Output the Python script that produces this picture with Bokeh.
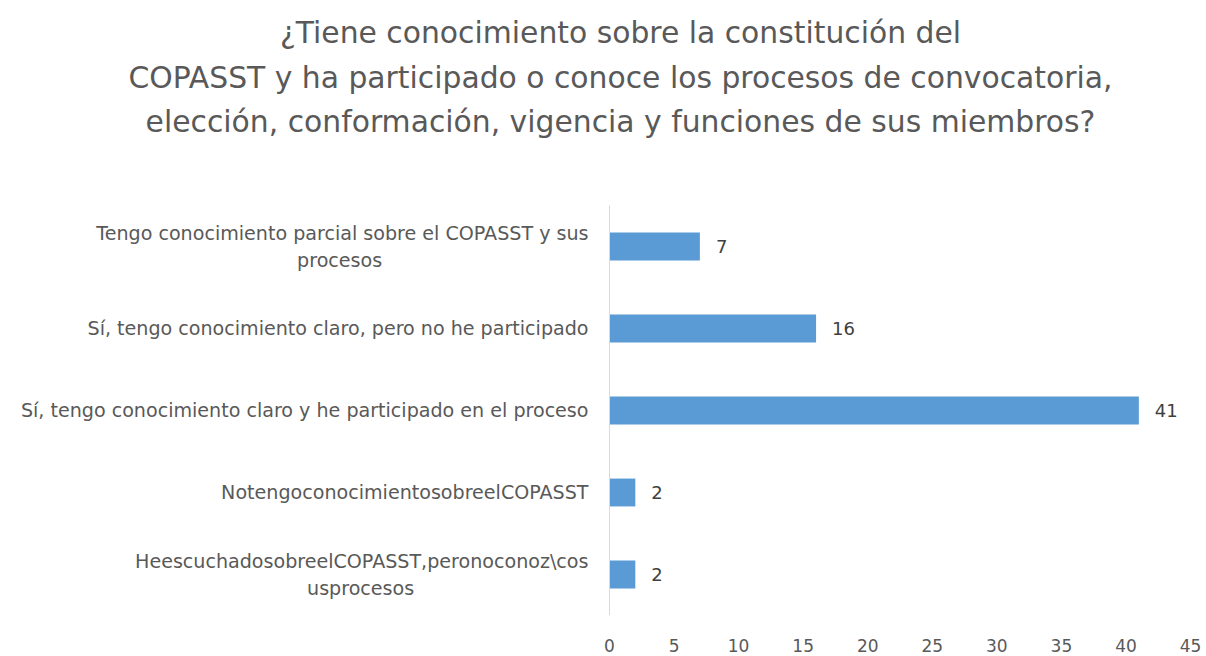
from bokeh.plotting import figure
from bokeh.models import Range1d, ColumnDataSource, FixedTicker
from bokeh.core.properties import value
from bokeh.embed import file_html
from bokeh.resources import INLINE

title_lines = [
    "¿Tiene conocimiento sobre la constitución del",
    "COPASST y ha participado o conoce los procesos de convocatoria,",
    "elección, conformación, vigencia y funciones de sus miembros?",
]
categories = [
    "Tengo conocimiento parcial sobre el COPASST y sus\nprocesos",
    "Sí, tengo conocimiento claro, pero no he participado",
    "Sí, tengo conocimiento claro y he participado en el proceso",
    "NotengoconocimientosobreelCOPASST",
    "HeescuchadosobreelCOPASST,peronoconoz\\cos\nusprocesos",
]
counts = [7, 16, 41, 2, 2]
x_ticks = [0, 5, 10, 15, 20, 25, 30, 35, 40, 45]

FONT = "DejaVu Sans"
GRAY = "#595959"
W, H = 1206, 656
AXIS_X, RIGHT, TITLE_H, BOTTOM = 609, 16, 205, 41
XMAX = 45

n = len(categories)
plot_w = W - AXIS_X - RIGHT
u_x = XMAX / plot_w
bar_area = H - TITLE_H - BOTTOM
u_y = n / bar_area

# approximate DejaVu Sans advance widths (em) used to centre wrapped label lines
_W = {" ": .318, ",": .318, ".": .318, "\\": .337, "a": .613, "b": .635, "c": .55, "d": .635,
      "e": .615, "f": .352, "g": .635, "h": .634, "i": .278, "í": .278, "j": .278, "k": .579,
      "l": .278, "m": .974, "n": .634, "o": .612, "p": .635, "q": .635, "r": .411, "s": .521,
      "t": .392, "u": .634, "v": .592, "w": .818, "x": .592, "y": .592, "z": .525,
      "A": .684, "C": .698, "O": .787, "P": .603, "S": .635, "T": .611, "H": .752, "N": .748}


def text_w(s, size):
    return sum(_W.get(ch, .62) for ch in s) * size


p = figure(width=W, height=H, x_range=Range1d(-AXIS_X * u_x, XMAX),
           y_range=Range1d(0, n + TITLE_H * u_y),
           output_backend="svg", toolbar_location=None,
           min_border_left=0, min_border_right=RIGHT, min_border_top=0,
           min_border_bottom=BOTTOM)
p.outline_line_color = None
p.grid.visible = False
p.yaxis.visible = False

ypos = [n - i - 0.5 for i in range(n)]
src = ColumnDataSource(dict(y=ypos, val=counts, lab=[str(c) for c in counts]))
p.hbar(y="y", right="val", left=0, height=0.34, source=src, color="#5B9BD5", line_color=None)
p.text(x="val", y="y", text="lab", source=src, x_offset=16, text_align="left",
       text_baseline="middle", text_font=value(FONT), text_font_size="18px", text_color="#404040")

# vertical category axis line
p.segment(x0=[0], y0=[0], x1=[0], y1=[n], line_color="#d9d9d9", line_width=1)

# category labels
LAB_SIZE = 19.1
LAB_OFF = -21
single = [(y, c) for y, c in zip(ypos, categories) if "\n" not in c]
p.text(x=[0] * len(single), y=[s[0] for s in single], text=[s[1] for s in single],
       x_offset=LAB_OFF, text_align="right", text_baseline="middle",
       text_font=value(FONT), text_font_size=f"{LAB_SIZE}px", text_color=GRAY)
line_gap = 27
for y, c in zip(ypos, categories):
    if "\n" not in c:
        continue
    first, second = c.split("\n")
    w1 = text_w(first, LAB_SIZE)
    p.text(x=[0], y=[y], text=[first], x_offset=LAB_OFF, y_offset=-line_gap / 2,
           text_align="right", text_baseline="middle",
           text_font=value(FONT), text_font_size=f"{LAB_SIZE}px", text_color=GRAY)
    p.text(x=[0], y=[y], text=[second], x_offset=LAB_OFF - w1 / 2, y_offset=line_gap / 2,
           text_align="center", text_baseline="middle",
           text_font=value(FONT), text_font_size=f"{LAB_SIZE}px", text_color=GRAY)

# title
title_cx = 620
title_cy = [32, 77, 121]
p.text(x=[(title_cx - AXIS_X) * u_x] * 3, y=[n + (TITLE_H - cy) * u_y for cy in title_cy],
       text=title_lines, text_align="center", text_baseline="middle",
       text_font=value(FONT), text_font_size="29.8px", text_color=GRAY)

p.xaxis.ticker = FixedTicker(ticks=x_ticks)
p.xaxis.axis_line_color = None
p.xaxis.major_tick_line_color = None
p.xaxis.minor_tick_line_color = None
p.xaxis.major_label_standoff = 17
p.xaxis.major_label_text_font = FONT
p.xaxis.major_label_text_font_size = "17px"
p.xaxis.major_label_text_color = GRAY

open("out.html", "w").write(file_html(p, INLINE))
